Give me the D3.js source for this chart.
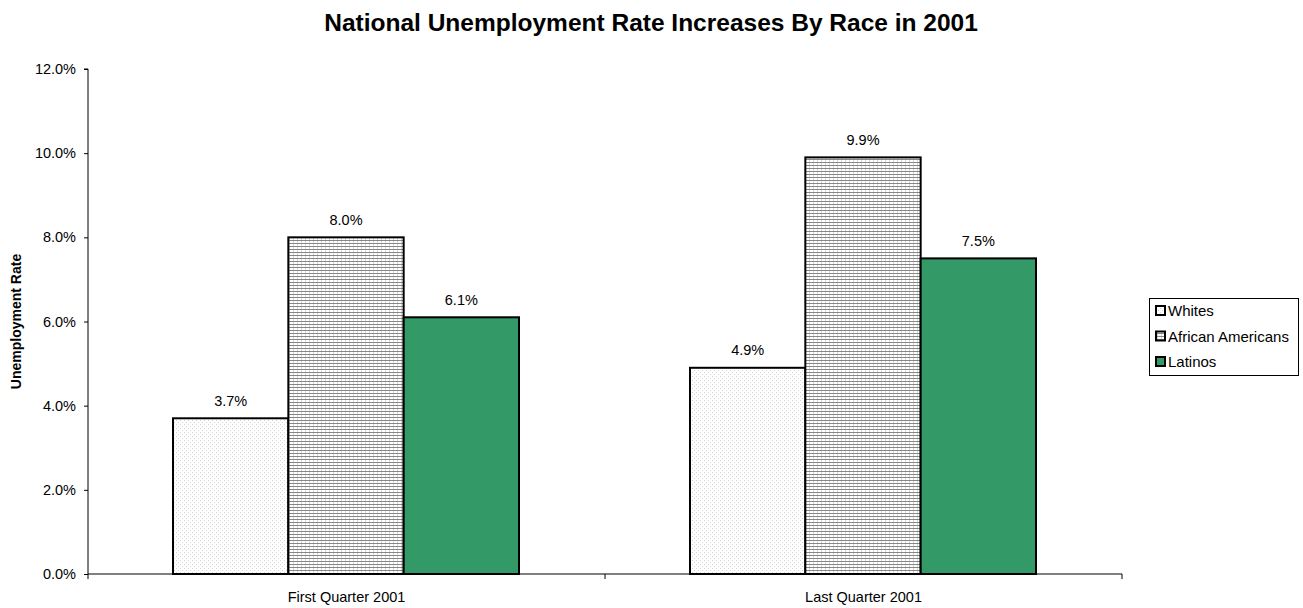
<!DOCTYPE html>
<html><head><meta charset="utf-8">
<script src="https://cdn.jsdelivr.net/npm/d3@7"></script>
<style>body{margin:0;background:#fff;} text{font-family:"Liberation Sans",Arial,sans-serif;}</style>
</head><body><svg id="c" width="1303" height="608"></svg>
<script>
const categories = ["First Quarter 2001", "Last Quarter 2001"];
const seriesNames = ["Whites", "African Americans", "Latinos"];
const whites = [3.7, 4.9];
const africanAmericans = [8.0, 9.9];
const latinos = [6.1, 7.5];
const yTicks = [0, 2, 4, 6, 8, 10, 12];
const seriesValues = [whites, africanAmericans, latinos];

(function(){
const svg = d3.select("#c");
const defs = svg.append("defs");
const pw = defs.append("pattern").attr("id","pWhite").attr("patternUnits","userSpaceOnUse").attr("width",4).attr("height",4);
pw.append("rect").attr("width",4).attr("height",4).attr("fill","#fff");
pw.append("rect").attr("x",0).attr("y",0).attr("width",1).attr("height",1).attr("fill","#d4d4d4");
pw.append("rect").attr("x",2).attr("y",2).attr("width",1).attr("height",1).attr("fill","#d4d4d4");
const pa = defs.append("pattern").attr("id","pAA").attr("patternUnits","userSpaceOnUse").attr("width",4).attr("height",3);
pa.append("rect").attr("width",4).attr("height",3).attr("fill","#fff");
pa.append("rect").attr("x",0).attr("y",0).attr("width",4).attr("height",1).attr("fill","#888");
pa.append("rect").attr("x",1).attr("y",1).attr("width",1).attr("height",2).attr("fill","#d8d8d8");
const fills = ["url(#pWhite)","url(#pAA)","#339966"];

const mLeft = 88, mRight = 1122, mTop = 69, mBottom = 574;
const fs = 14.5;
const x0 = d3.scaleBand().domain(categories).range([mLeft, mRight]);
const x1 = d3.scaleBand().domain(seriesNames).range([85, x0.bandwidth()-86]).paddingInner(0).paddingOuter(0);
const y = d3.scaleLinear().domain([0, 12]).range([mBottom, mTop]);

svg.append("text").attr("x", 651).attr("y", 30.5).attr("text-anchor","middle")
  .attr("font-size", 24.5).attr("font-weight","bold").text("National Unemployment Rate Increases By Race in 2001");

const ya = svg.append("g").attr("transform",`translate(${mLeft},0)`)
  .call(d3.axisLeft(y).tickValues(yTicks).tickSize(4).tickFormat(d => d.toFixed(1)+"%"));
ya.select(".domain").attr("stroke","#000").attr("d",`M-4,${mTop}H0V${mBottom}`);
ya.selectAll(".tick line").attr("stroke","#000");
ya.selectAll(".tick text").attr("font-size",fs).attr("fill","#000").attr("x",-12).attr("font-family","Liberation Sans, Arial, sans-serif");

svg.append("text").attr("transform",`translate(21,${(mTop+mBottom)/2}) rotate(-90)`).attr("text-anchor","middle")
  .attr("font-size",14).attr("font-weight","bold").text("Unemployment Rate");

categories.forEach((c, ci) => {
  seriesNames.forEach((s, si) => {
    const v = seriesValues[si][ci];
    const bx = x0(c) + x1(s);
    svg.append("rect").attr("x", bx).attr("y", y(v)).attr("width", x1.bandwidth()).attr("height", mBottom - y(v))
      .attr("fill", fills[si]).attr("stroke","#000").attr("stroke-width",2);
    svg.append("text").attr("x", bx + x1.bandwidth()/2).attr("y", y(v) - 12.5).attr("text-anchor","middle")
      .attr("font-size",fs).text(v.toFixed(1)+"%");
  });
});

const xa = svg.append("g").attr("transform",`translate(0,${mBottom})`)
  .call(d3.axisBottom(x0).tickSize(0).tickPadding(18));
xa.select(".domain").attr("stroke","#000").attr("d",`M${mLeft},0H${mRight}`);
xa.selectAll(".tick text").attr("font-size",fs).attr("fill","#000").attr("font-family","Liberation Sans, Arial, sans-serif");
[mLeft, mLeft + x0.bandwidth(), mRight].forEach(t => {
  svg.append("line").attr("x1",t).attr("x2",t).attr("y1",mBottom).attr("y2",mBottom+5).attr("stroke","#000");
});

const lg = svg.append("g");
lg.append("rect").attr("x",1149.5).attr("y",298.5).attr("width",149).attr("height",77).attr("fill","#fff").attr("stroke","#000");
seriesNames.forEach((s, i) => {
  const cy = 311 + i*25.5;
  lg.append("rect").attr("x",1156).attr("y",cy-5).attr("width",9).attr("height",9).attr("fill",fills[i]).attr("stroke","#000").attr("stroke-width",2);
  lg.append("text").attr("x",1168).attr("y",cy+5.3).attr("font-size",15).text(s);
});
})();
</script></body></html>
